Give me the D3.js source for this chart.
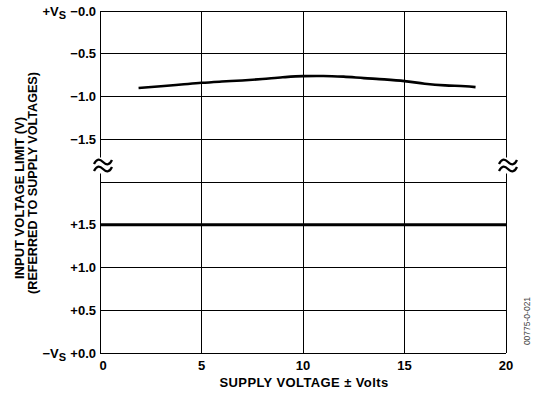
<!DOCTYPE html>
<html lang="en">
  <head>
    <meta charset="UTF-8" />
    <title>Input Voltage Limit vs Supply Voltage</title>
    <script src="https://d3js.org/d3.v7.min.js"></script>
    <style>
      body {
        margin: 0;
        padding: 0;
        background-color: #ffffff;
      }
      svg text {
        font-family: "Liberation Sans", Arial, sans-serif;
        font-weight: bold;
        fill: #000;
      }
    </style>
  </head>
  <body>
    <div id="chart"></div>

    <script>
      // -----------------------------
      // Data
      // -----------------------------
      const supplyVolts = [1.9, 3, 4, 5, 6, 7, 8, 9, 10, 11, 12, 13, 14, 15, 16, 17, 18, 18.5];
      const upperLimit = [-0.9, -0.88, -0.86, -0.84, -0.825, -0.812, -0.795, -0.775, -0.762, -0.76, -0.768, -0.785, -0.8, -0.82, -0.85, -0.87, -0.88, -0.89];
      const lowerVolts = [0, 20];
      const lowerLimit = [1.5, 1.5];

      const xTicks = [0, 5, 10, 15, 20];
      const topTicks = [0, -0.5, -1.0, -1.5];
      const bottomTicks = [1.5, 1.0, 0.5, 0];
      const topLabels = ["\u22120.0", "\u22120.5", "\u22121.0", "\u22121.5"];
      const bottomLabels = ["+1.5", "+1.0", "+0.5", "+0.0"];

      // -----------------------------
      // Setup
      // -----------------------------
      const width = 534,
        height = 394;
      const plotL = 100,
        plotR = 506,
        plotT = 11,
        plotB = 353,
        plotMid = 182;

      const svg = d3
        .select("#chart")
        .append("svg")
        .attr("width", width)
        .attr("height", height);

      const x = d3.scaleLinear().domain([0, 20]).range([plotL, plotR]);
      // two stacked scales: upper half referred to +Vs, lower half to -Vs
      const yTop = d3.scaleLinear().domain([0, -2]).range([plotT, plotMid]);
      const yBot = d3.scaleLinear().domain([2, 0]).range([plotMid, plotB]);

      // gridlines
      const grid = svg.append("g").attr("shape-rendering", "crispEdges");
      grid
        .selectAll(".hx")
        .data(topTicks)
        .enter()
        .append("line")
        .attr("x1", plotL)
        .attr("x2", plotR)
        .attr("y1", (d) => yTop(d))
        .attr("y2", (d) => yTop(d))
        .attr("stroke", "#000");
      grid
        .selectAll(".hb")
        .data([2].concat(bottomTicks))
        .enter()
        .append("line")
        .attr("x1", plotL)
        .attr("x2", plotR)
        .attr("y1", (d) => yBot(d))
        .attr("y2", (d) => yBot(d))
        .attr("stroke", "#000");
      grid
        .selectAll(".vx")
        .data(xTicks)
        .enter()
        .append("line")
        .attr("x1", (d) => x(d))
        .attr("x2", (d) => x(d))
        .attr("y1", plotT)
        .attr("y2", plotB)
        .attr("stroke", "#000");

      // curves
      const upperLine = d3
        .line()
        .x((d, i) => x(supplyVolts[i]))
        .y((d) => yTop(d))
        .curve(d3.curveMonotoneX);
      svg
        .append("path")
        .datum(upperLimit)
        .attr("d", upperLine)
        .attr("fill", "none")
        .attr("stroke", "#000")
        .attr("stroke-width", 2.6);

      const lowerLine = d3
        .line()
        .x((d, i) => x(lowerVolts[i]))
        .y((d) => yBot(d));
      svg
        .append("path")
        .datum(lowerLimit)
        .attr("d", lowerLine)
        .attr("fill", "none")
        .attr("stroke", "#000")
        .attr("stroke-width", 3);

      // break marks (two tildes)
      [plotL + 3, plotR + 2].forEach((bx) => {
        const g = svg.append("g").attr("transform", `translate(${bx},165.5)`);
        g.append("rect")
          .attr("x", -10)
          .attr("y", -8)
          .attr("width", 20)
          .attr("height", 16)
          .attr("fill", "#fff");
        [-3.5, 3.5].forEach((dy) => {
          g.append("path")
            .attr("d", `M-9,${dy + 2} C-6,${dy - 4} -3,${dy - 3} 0,${dy} S6,${dy + 4} 9,${dy - 2}`)
            .attr("fill", "none")
            .attr("stroke", "#000")
            .attr("stroke-width", 2.3);
        });
      });

      // y tick labels
      svg
        .selectAll(".ty")
        .data(topTicks)
        .enter()
        .append("text")
        .attr("x", plotL - 4)
        .attr("y", (d) => yTop(d) + 4.5)
        .attr("text-anchor", "end")
        .style("font-size", "13px")
        .text((d, i) => topLabels[i]);
      svg
        .selectAll(".by")
        .data(bottomTicks)
        .enter()
        .append("text")
        .attr("x", plotL - 4)
        .attr("y", (d) => yBot(d) + 4.5)
        .attr("text-anchor", "end")
        .style("font-size", "13px")
        .text((d, i) => bottomLabels[i]);

      // +Vs / -Vs
      const vsTop = svg
        .append("text")
        .attr("x", 66)
        .attr("y", yTop(0) + 4.5)
        .attr("text-anchor", "end")
        .style("font-size", "13px");
      vsTop.append("tspan").text("+V");
      vsTop.append("tspan").attr("dy", 3).style("font-size", "11px").text("S");

      const vsBot = svg
        .append("text")
        .attr("x", 66)
        .attr("y", yBot(0) + 4.5)
        .attr("text-anchor", "end")
        .style("font-size", "13px");
      vsBot.append("tspan").text("\u2212V");
      vsBot.append("tspan").attr("dy", 3).style("font-size", "11px").text("S");

      // x tick labels
      svg
        .selectAll(".tx")
        .data(xTicks)
        .enter()
        .append("text")
        .attr("x", (d) => x(d) + (d === 0 ? 3 : 0))
        .attr("y", 370)
        .attr("text-anchor", "middle")
        .style("font-size", "13px")
        .text((d) => d);

      // axis titles
      svg
        .append("text")
        .attr("x", 304)
        .attr("y", 387)
        .attr("text-anchor", "middle")
        .style("font-size", "13px")
        .style("letter-spacing", "0.4px")
        .text("SUPPLY VOLTAGE \u00b1 Volts");

      svg
        .append("text")
        .attr("transform", "translate(24,198) rotate(-90)")
        .attr("text-anchor", "middle")
        .style("font-size", "13px")
        .text("INPUT VOLTAGE LIMIT (V)");
      svg
        .append("text")
        .attr("transform", "translate(37,183) rotate(-90)")
        .attr("text-anchor", "middle")
        .style("font-size", "12.6px")
        .text("(REFERRED TO SUPPLY VOLTAGES)");

      // figure code
      svg
        .append("text")
        .attr("transform", "translate(530,321) rotate(-90)")
        .attr("text-anchor", "middle")
        .style("font-size", "8.5px")
        .style("font-weight", "normal")
        .style("fill", "#444")
        .text("00775-0-021");
    </script>
  </body>
</html>
